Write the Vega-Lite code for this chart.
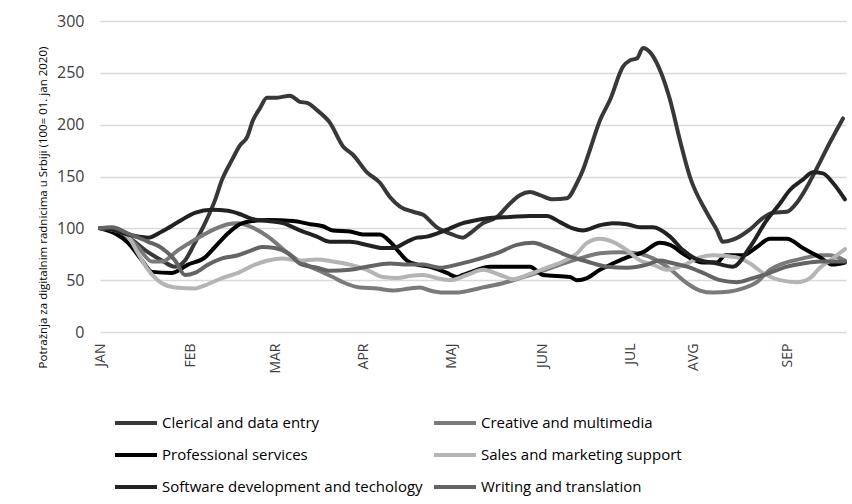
{
  "$schema": "https://vega.github.io/schema/vega-lite/v6.json",
  "width": 746,
  "height": 311,
  "autosize": {"type": "none"},
  "padding": {"left": 100, "top": 21, "right": 6, "bottom": 172},
  "background": "white",
  "config": {"view": {"stroke": null}, "font": "Open Sans"},
  "datasets": {
    "raw": [
      {"s":"Clerical and data entry","d":0,"v":100},{"s":"Clerical and data entry","d":5.5,"v":97},{"s":"Clerical and data entry","d":11.6,"v":89},{"s":"Clerical and data entry","d":16.4,"v":79},{"s":"Clerical and data entry","d":22.5,"v":69},{"s":"Clerical and data entry","d":27.3,"v":63},{"s":"Clerical and data entry","d":30.9,"v":69},{"s":"Clerical and data entry","d":34.5,"v":86},{"s":"Clerical and data entry","d":38.2,"v":105},{"s":"Clerical and data entry","d":41.8,"v":127},{"s":"Clerical and data entry","d":44.4,"v":147},{"s":"Clerical and data entry","d":48,"v":166},{"s":"Clerical and data entry","d":50.9,"v":180},{"s":"Clerical and data entry","d":53.5,"v":188},{"s":"Clerical and data entry","d":55.6,"v":204},{"s":"Clerical and data entry","d":58.2,"v":216},{"s":"Clerical and data entry","d":60.7,"v":226},{"s":"Clerical and data entry","d":64.4,"v":226},{"s":"Clerical and data entry","d":69.1,"v":228},{"s":"Clerical and data entry","d":72.7,"v":222},{"s":"Clerical and data entry","d":75.3,"v":221},{"s":"Clerical and data entry","d":78.9,"v":214},{"s":"Clerical and data entry","d":83.6,"v":202},{"s":"Clerical and data entry","d":88.4,"v":179},{"s":"Clerical and data entry","d":92,"v":171},{"s":"Clerical and data entry","d":97.1,"v":154},{"s":"Clerical and data entry","d":101.8,"v":144},{"s":"Clerical and data entry","d":105.5,"v":130},{"s":"Clerical and data entry","d":109.1,"v":121},{"s":"Clerical and data entry","d":113.8,"v":116},{"s":"Clerical and data entry","d":117.5,"v":113},{"s":"Clerical and data entry","d":122.5,"v":101},{"s":"Clerical and data entry","d":127.3,"v":95},{"s":"Clerical and data entry","d":132,"v":91},{"s":"Clerical and data entry","d":134.5,"v":95},{"s":"Clerical and data entry","d":139.3,"v":105},{"s":"Clerical and data entry","d":144.4,"v":111},{"s":"Clerical and data entry","d":149.1,"v":124},{"s":"Clerical and data entry","d":152.7,"v":132},{"s":"Clerical and data entry","d":156.4,"v":135},{"s":"Clerical and data entry","d":160,"v":132},{"s":"Clerical and data entry","d":164.7,"v":128},{"s":"Clerical and data entry","d":169.8,"v":129},{"s":"Clerical and data entry","d":173.5,"v":144},{"s":"Clerical and data entry","d":175.6,"v":156},{"s":"Clerical and data entry","d":178.2,"v":176},{"s":"Clerical and data entry","d":181.8,"v":204},{"s":"Clerical and data entry","d":185.5,"v":224},{"s":"Clerical and data entry","d":190.2,"v":256},{"s":"Clerical and data entry","d":192.7,"v":262},{"s":"Clerical and data entry","d":195.3,"v":264},{"s":"Clerical and data entry","d":197.5,"v":274},{"s":"Clerical and data entry","d":200,"v":270},{"s":"Clerical and data entry","d":203.6,"v":253},{"s":"Clerical and data entry","d":207.3,"v":224},{"s":"Clerical and data entry","d":210.9,"v":185},{"s":"Clerical and data entry","d":214.5,"v":150},{"s":"Clerical and data entry","d":220.7,"v":115},{"s":"Clerical and data entry","d":224.4,"v":98},{"s":"Clerical and data entry","d":226.5,"v":87},{"s":"Clerical and data entry","d":230.2,"v":89},{"s":"Clerical and data entry","d":236.4,"v":99},{"s":"Clerical and data entry","d":241.1,"v":110},{"s":"Clerical and data entry","d":244.7,"v":115},{"s":"Clerical and data entry","d":249.8,"v":116},{"s":"Clerical and data entry","d":253.5,"v":125},{"s":"Clerical and data entry","d":257.1,"v":140},{"s":"Clerical and data entry","d":260.7,"v":158},{"s":"Clerical and data entry","d":265.5,"v":183},{"s":"Clerical and data entry","d":270.2,"v":206},

      {"s":"Creative and multimedia","d":0,"v":100},{"s":"Creative and multimedia","d":5.5,"v":100},{"s":"Creative and multimedia","d":10.2,"v":92},{"s":"Creative and multimedia","d":13.8,"v":82},{"s":"Creative and multimedia","d":18.9,"v":68},{"s":"Creative and multimedia","d":22.5,"v":68},{"s":"Creative and multimedia","d":28.4,"v":79},{"s":"Creative and multimedia","d":34.5,"v":89},{"s":"Creative and multimedia","d":40.7,"v":98},{"s":"Creative and multimedia","d":46.5,"v":104},{"s":"Creative and multimedia","d":50.2,"v":105},{"s":"Creative and multimedia","d":55.3,"v":101},{"s":"Creative and multimedia","d":61.1,"v":92},{"s":"Creative and multimedia","d":66.5,"v":80},{"s":"Creative and multimedia","d":72.7,"v":68},{"s":"Creative and multimedia","d":78.9,"v":60},{"s":"Creative and multimedia","d":84.7,"v":53},{"s":"Creative and multimedia","d":88.4,"v":48},{"s":"Creative and multimedia","d":94.5,"v":43},{"s":"Creative and multimedia","d":100.7,"v":42},{"s":"Creative and multimedia","d":106.5,"v":40},{"s":"Creative and multimedia","d":112.7,"v":42},{"s":"Creative and multimedia","d":116.4,"v":43},{"s":"Creative and multimedia","d":120,"v":40},{"s":"Creative and multimedia","d":124.7,"v":38},{"s":"Creative and multimedia","d":129.8,"v":38},{"s":"Creative and multimedia","d":134.5,"v":40},{"s":"Creative and multimedia","d":139.3,"v":43},{"s":"Creative and multimedia","d":146.5,"v":47},{"s":"Creative and multimedia","d":152.7,"v":52},{"s":"Creative and multimedia","d":160,"v":58},{"s":"Creative and multimedia","d":167.3,"v":65},{"s":"Creative and multimedia","d":174.5,"v":71},{"s":"Creative and multimedia","d":181.8,"v":76},{"s":"Creative and multimedia","d":189.1,"v":77},{"s":"Creative and multimedia","d":195.3,"v":76},{"s":"Creative and multimedia","d":201.1,"v":71},{"s":"Creative and multimedia","d":206.2,"v":63},{"s":"Creative and multimedia","d":213.5,"v":47},{"s":"Creative and multimedia","d":218.2,"v":40},{"s":"Creative and multimedia","d":222.9,"v":38},{"s":"Creative and multimedia","d":229.1,"v":39},{"s":"Creative and multimedia","d":233.8,"v":42},{"s":"Creative and multimedia","d":238.9,"v":48},{"s":"Creative and multimedia","d":243.6,"v":60},{"s":"Creative and multimedia","d":248.4,"v":66},{"s":"Creative and multimedia","d":255.6,"v":71},{"s":"Creative and multimedia","d":261.8,"v":74},{"s":"Creative and multimedia","d":265.5,"v":74},{"s":"Creative and multimedia","d":270.9,"v":69},

      {"s":"Professional services","d":0,"v":100},{"s":"Professional services","d":5.5,"v":95},{"s":"Professional services","d":10.2,"v":86},{"s":"Professional services","d":15.3,"v":69},{"s":"Professional services","d":18.9,"v":58},{"s":"Professional services","d":26.2,"v":57},{"s":"Professional services","d":32,"v":65},{"s":"Professional services","d":38.2,"v":72},{"s":"Professional services","d":41.8,"v":82},{"s":"Professional services","d":46.5,"v":95},{"s":"Professional services","d":50.2,"v":103},{"s":"Professional services","d":55.3,"v":107},{"s":"Professional services","d":61.1,"v":108},{"s":"Professional services","d":70.2,"v":107},{"s":"Professional services","d":76.4,"v":104},{"s":"Professional services","d":81.1,"v":102},{"s":"Professional services","d":84.7,"v":98},{"s":"Professional services","d":90.9,"v":97},{"s":"Professional services","d":95.6,"v":94},{"s":"Professional services","d":101.8,"v":94},{"s":"Professional services","d":105.5,"v":87},{"s":"Professional services","d":109.1,"v":76},{"s":"Professional services","d":111.6,"v":69},{"s":"Professional services","d":115.3,"v":65},{"s":"Professional services","d":120,"v":63},{"s":"Professional services","d":126.2,"v":57},{"s":"Professional services","d":129.8,"v":53},{"s":"Professional services","d":132,"v":55},{"s":"Professional services","d":137.1,"v":60},{"s":"Professional services","d":141.8,"v":63},{"s":"Professional services","d":156.4,"v":63},{"s":"Professional services","d":161.1,"v":55},{"s":"Professional services","d":170.9,"v":53},{"s":"Professional services","d":173.5,"v":50},{"s":"Professional services","d":177.1,"v":52},{"s":"Professional services","d":181.8,"v":60},{"s":"Professional services","d":186.5,"v":66},{"s":"Professional services","d":191.6,"v":72},{"s":"Professional services","d":197.5,"v":77},{"s":"Professional services","d":203.6,"v":86},{"s":"Professional services","d":207.3,"v":84},{"s":"Professional services","d":213.5,"v":73},{"s":"Professional services","d":219.3,"v":67},{"s":"Professional services","d":224.4,"v":67},{"s":"Professional services","d":227.3,"v":74},{"s":"Professional services","d":233.8,"v":74},{"s":"Professional services","d":238.9,"v":82},{"s":"Professional services","d":243.6,"v":90},{"s":"Professional services","d":249.8,"v":90},{"s":"Professional services","d":255.6,"v":81},{"s":"Professional services","d":261.8,"v":72},{"s":"Professional services","d":266.5,"v":65},{"s":"Professional services","d":270.9,"v":67},

      {"s":"Sales and marketing support","d":0,"v":100},{"s":"Sales and marketing support","d":5.5,"v":98},{"s":"Sales and marketing support","d":10.2,"v":92},{"s":"Sales and marketing support","d":13.8,"v":76},{"s":"Sales and marketing support","d":17.5,"v":60},{"s":"Sales and marketing support","d":22.5,"v":47},{"s":"Sales and marketing support","d":27.3,"v":43},{"s":"Sales and marketing support","d":34.5,"v":42},{"s":"Sales and marketing support","d":38.2,"v":45},{"s":"Sales and marketing support","d":44.4,"v":52},{"s":"Sales and marketing support","d":50.2,"v":57},{"s":"Sales and marketing support","d":56.4,"v":65},{"s":"Sales and marketing support","d":61.1,"v":69},{"s":"Sales and marketing support","d":66.2,"v":71},{"s":"Sales and marketing support","d":72.7,"v":69},{"s":"Sales and marketing support","d":78.9,"v":70},{"s":"Sales and marketing support","d":84.7,"v":68},{"s":"Sales and marketing support","d":90.9,"v":65},{"s":"Sales and marketing support","d":97.1,"v":60},{"s":"Sales and marketing support","d":102.9,"v":53},{"s":"Sales and marketing support","d":108,"v":52},{"s":"Sales and marketing support","d":112.7,"v":54},{"s":"Sales and marketing support","d":117.5,"v":55},{"s":"Sales and marketing support","d":122.5,"v":52},{"s":"Sales and marketing support","d":127.3,"v":50},{"s":"Sales and marketing support","d":133.5,"v":55},{"s":"Sales and marketing support","d":139.3,"v":60},{"s":"Sales and marketing support","d":145.5,"v":55},{"s":"Sales and marketing support","d":150.2,"v":51},{"s":"Sales and marketing support","d":156.4,"v":56},{"s":"Sales and marketing support","d":162.5,"v":62},{"s":"Sales and marketing support","d":168.4,"v":68},{"s":"Sales and marketing support","d":173.5,"v":76},{"s":"Sales and marketing support","d":177.1,"v":86},{"s":"Sales and marketing support","d":181.8,"v":90},{"s":"Sales and marketing support","d":186.5,"v":87},{"s":"Sales and marketing support","d":191.6,"v":79},{"s":"Sales and marketing support","d":196.4,"v":69},{"s":"Sales and marketing support","d":201.1,"v":65},{"s":"Sales and marketing support","d":206.2,"v":60},{"s":"Sales and marketing support","d":212.7,"v":65},{"s":"Sales and marketing support","d":218.2,"v":72},{"s":"Sales and marketing support","d":222.9,"v":74},{"s":"Sales and marketing support","d":231.6,"v":72},{"s":"Sales and marketing support","d":236.4,"v":66},{"s":"Sales and marketing support","d":241.1,"v":57},{"s":"Sales and marketing support","d":247.3,"v":50},{"s":"Sales and marketing support","d":253.5,"v":48},{"s":"Sales and marketing support","d":258.2,"v":52},{"s":"Sales and marketing support","d":261.8,"v":62},{"s":"Sales and marketing support","d":265.5,"v":69},{"s":"Sales and marketing support","d":270.9,"v":80},

      {"s":"Software development and techology","d":0,"v":100},{"s":"Software development and techology","d":5.5,"v":98},{"s":"Software development and techology","d":10.2,"v":94},{"s":"Software development and techology","d":17.5,"v":91},{"s":"Software development and techology","d":22.5,"v":97},{"s":"Software development and techology","d":28.4,"v":106},{"s":"Software development and techology","d":34.5,"v":115},{"s":"Software development and techology","d":40.7,"v":118},{"s":"Software development and techology","d":46.5,"v":117},{"s":"Software development and techology","d":51.6,"v":113},{"s":"Software development and techology","d":55.3,"v":109},{"s":"Software development and techology","d":61.1,"v":107},{"s":"Software development and techology","d":66.5,"v":105},{"s":"Software development and techology","d":72.7,"v":98},{"s":"Software development and techology","d":78.9,"v":92},{"s":"Software development and techology","d":83.6,"v":87},{"s":"Software development and techology","d":90.9,"v":87},{"s":"Software development and techology","d":97.1,"v":84},{"s":"Software development and techology","d":102.9,"v":81},{"s":"Software development and techology","d":106.5,"v":81},{"s":"Software development and techology","d":111.6,"v":87},{"s":"Software development and techology","d":115.3,"v":91},{"s":"Software development and techology","d":118.9,"v":92},{"s":"Software development and techology","d":122.5,"v":95},{"s":"Software development and techology","d":127.3,"v":100},{"s":"Software development and techology","d":132,"v":105},{"s":"Software development and techology","d":137.1,"v":108},{"s":"Software development and techology","d":141.8,"v":110},{"s":"Software development and techology","d":149.1,"v":111},{"s":"Software development and techology","d":156.4,"v":112},{"s":"Software development and techology","d":162.5,"v":112},{"s":"Software development and techology","d":167.3,"v":106},{"s":"Software development and techology","d":172,"v":100},{"s":"Software development and techology","d":175.6,"v":98},{"s":"Software development and techology","d":181.8,"v":103},{"s":"Software development and techology","d":186.5,"v":105},{"s":"Software development and techology","d":191.6,"v":104},{"s":"Software development and techology","d":196.4,"v":101},{"s":"Software development and techology","d":201.1,"v":101},{"s":"Software development and techology","d":207.3,"v":92},{"s":"Software development and techology","d":212,"v":79},{"s":"Software development and techology","d":218.2,"v":69},{"s":"Software development and techology","d":222.9,"v":67},{"s":"Software development and techology","d":230.2,"v":63},{"s":"Software development and techology","d":236.4,"v":82},{"s":"Software development and techology","d":242.5,"v":108},{"s":"Software development and techology","d":247.3,"v":124},{"s":"Software development and techology","d":250.9,"v":137},{"s":"Software development and techology","d":255.6,"v":147},{"s":"Software development and techology","d":259.3,"v":154},{"s":"Software development and techology","d":262.9,"v":153},{"s":"Software development and techology","d":266.5,"v":144},{"s":"Software development and techology","d":270.9,"v":128},

      {"s":"Writing and translation","d":0,"v":100},{"s":"Writing and translation","d":4.4,"v":101},{"s":"Writing and translation","d":10.2,"v":95},{"s":"Writing and translation","d":17.5,"v":87},{"s":"Writing and translation","d":22.5,"v":81},{"s":"Writing and translation","d":27.3,"v":69},{"s":"Writing and translation","d":30.9,"v":55},{"s":"Writing and translation","d":34.5,"v":57},{"s":"Writing and translation","d":39.3,"v":65},{"s":"Writing and translation","d":44.4,"v":71},{"s":"Writing and translation","d":50.2,"v":74},{"s":"Writing and translation","d":55.3,"v":79},{"s":"Writing and translation","d":58.9,"v":82},{"s":"Writing and translation","d":63.6,"v":81},{"s":"Writing and translation","d":68.4,"v":76},{"s":"Writing and translation","d":72.7,"v":66},{"s":"Writing and translation","d":78.9,"v":62},{"s":"Writing and translation","d":83.6,"v":59},{"s":"Writing and translation","d":90.9,"v":60},{"s":"Writing and translation","d":97.1,"v":63},{"s":"Writing and translation","d":105.5,"v":66},{"s":"Writing and translation","d":111.6,"v":65},{"s":"Writing and translation","d":117.5,"v":65},{"s":"Writing and translation","d":123.6,"v":62},{"s":"Writing and translation","d":129.8,"v":65},{"s":"Writing and translation","d":137.1,"v":70},{"s":"Writing and translation","d":144.4,"v":76},{"s":"Writing and translation","d":151.6,"v":84},{"s":"Writing and translation","d":157.5,"v":86},{"s":"Writing and translation","d":162.5,"v":82},{"s":"Writing and translation","d":169.8,"v":74},{"s":"Writing and translation","d":177.1,"v":68},{"s":"Writing and translation","d":184.4,"v":63},{"s":"Writing and translation","d":191.6,"v":62},{"s":"Writing and translation","d":198.9,"v":65},{"s":"Writing and translation","d":203.6,"v":69},{"s":"Writing and translation","d":207.3,"v":67},{"s":"Writing and translation","d":213.5,"v":63},{"s":"Writing and translation","d":219.3,"v":57},{"s":"Writing and translation","d":225.5,"v":50},{"s":"Writing and translation","d":231.6,"v":48},{"s":"Writing and translation","d":237.5,"v":52},{"s":"Writing and translation","d":243.6,"v":57},{"s":"Writing and translation","d":249.8,"v":63},{"s":"Writing and translation","d":255.6,"v":66},{"s":"Writing and translation","d":261.8,"v":68},{"s":"Writing and translation","d":270.9,"v":68}
    ]
  },
  "data": {"name": "raw"},
  "mark": {"type": "line", "strokeWidth": 4, "interpolate": "monotone", "strokeCap": "round", "strokeJoin": "round"},
  "encoding": {
    "x": {
      "field": "d",
      "type": "quantitative",
      "scale": {"domain": [0, 271.3], "nice": false, "zero": false},
      "axis": {
        "values": [0, 33, 64, 96, 128, 161, 193, 216, 250],
        "labelExpr": "datum.value == 0 ? 'JAN' : datum.value == 33 ? 'FEB' : datum.value == 64 ? 'MAR' : datum.value == 96 ? 'APR' : datum.value == 128 ? 'MAJ' : datum.value == 161 ? 'JUN' : datum.value == 193 ? 'JUL' : datum.value == 216 ? 'AVG' : 'SEP'",
        "labelAngle": -90,
        "labelFontSize": 14,
        "labelColor": "#404040",
        "labelPadding": 11,
        "grid": false,
        "ticks": false,
        "domain": false,
        "title": null
      }
    },
    "y": {
      "field": "v",
      "type": "quantitative",
      "scale": {"domain": [0, 300], "nice": false},
      "axis": {
        "values": [0, 50, 100, 150, 200, 250, 300],
        "grid": true,
        "gridColor": "#d9d9d9",
        "gridWidth": 1.5,
        "ticks": false,
        "domain": false,
        "labelFontSize": 16,
        "labelColor": "#404040",
        "labelPadding": 16,
        "title": "Potražnja za digitalnim radnicima u Srbiji (100= 01. jan 2020)",
        "titleFontSize": 11.5,
        "titleFontWeight": "normal",
        "titleColor": "#000000",
        "titleAngle": -90,
        "titleX": -57,
        "titleY": 186,
        "titleAlign": "center",
        "titleBaseline": "middle"
      }
    },
    "color": {
      "field": "s",
      "type": "nominal",
      "scale": {
        "domain": ["Clerical and data entry", "Creative and multimedia", "Professional services", "Sales and marketing support", "Software development and techology", "Writing and translation"],
        "range": ["#383838", "#7a7a7a", "#000000", "#b4b4b4", "#222222", "#646464"]
      },
      "legend": {
        "orient": "none",
        "legendX": 13,
        "legendY": 379,
        "direction": "horizontal",
        "columns": 2,
        "title": null,
        "symbolType": "stroke",
        "symbolSize": 1764,
        "symbolStrokeWidth": 4,
        "labelFontSize": 15,
        "labelColor": "#000000",
        "labelOffset": 3,
        "columnPadding": 3,
        "rowPadding": 1,
        "labelLimit": 400
      }
    }
  }
}
